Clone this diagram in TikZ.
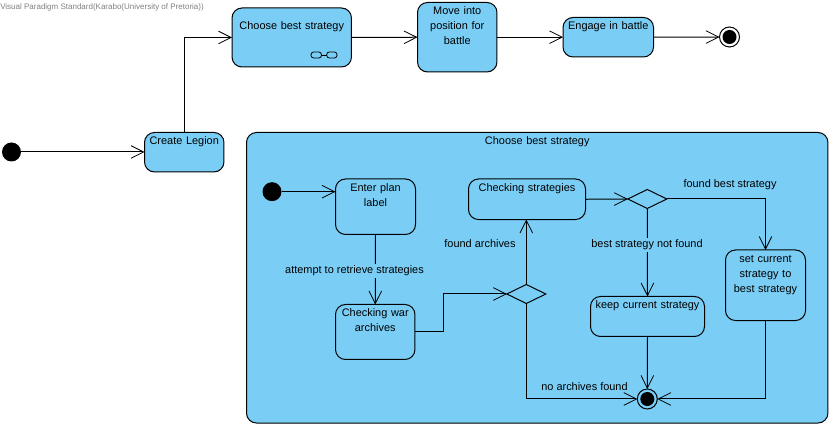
\documentclass[tikz,border=0pt]{standalone}
\usepackage{fontspec}
\setmainfont{Liberation Sans}
\usetikzlibrary{arrows.meta,shapes.geometric,calc}
\definecolor{stfill}{HTML}{7ACEF6}
\tikzset{
  conn/.style={draw=black,line width=0.75pt,-{Straight Barb[length=9.5pt,width=9.5pt,line width=0.6pt]}},
  st/.style={draw=black,fill=stfill,line width=0.75pt,rounded corners=7.5pt,anchor=north west,
    align=center,inner xsep=0pt,inner ysep=0pt,outer sep=0pt,font=\fontsize{8.2pt}{11.25pt}\selectfont},
  lab/.style={fill=stfill,inner xsep=1pt,inner ysep=1.5pt,font=\fontsize{8.2pt}{11.25pt}\selectfont},
  labnf/.style={inner sep=0pt,font=\fontsize{8.2pt}{11.25pt}\selectfont},
  startdot/.style={circle,fill=black,minimum size=14.25pt,inner sep=0pt,outer sep=0pt},
  endring/.style={circle,draw=black,line width=0.75pt,minimum size=15pt,inner sep=0pt,outer sep=0pt},
  enddot/.style={circle,fill=black,minimum size=10.5pt,inner sep=0pt,outer sep=0pt},
  choice/.style={diamond,aspect=2,draw=black,line width=0.75pt,minimum width=29.25pt,minimum height=14.25pt,inner sep=0pt,outer sep=0pt},
}
\begin{document}
\begin{tikzpicture}[x=0.75pt,y=-0.75pt]
\useasboundingbox[fill=white] (0,0) rectangle (832,427);
\node[anchor=west,inner sep=0pt,text=black!50,font=\fontsize{6pt}{7pt}\selectfont] (wm) at (0,7) {Visual Paradigm Standard(Karabo(University of Pretoria))};
% outer states
\node[st,text width=89.6pt,text height=16.3pt,text depth=27.95pt] (choose) at (232,8) {Choose best strategy};
\node[st,text width=59.6pt,text height=9.2pt,text depth=42.9pt] (move) at (417.5,2.5) {Move into\\position for\\battle};
\node[st,text width=67.9pt,text height=9.2pt,text depth=20.4pt] (engage) at (563,17.5) {Engage in battle};
\node[st,text width=59.6pt,text height=9.2pt,text depth=20.4pt] (create) at (144.5,132.5) {Create Legion};
\node[st,text width=436.1pt,text height=9.2pt,text depth=208.7pt] (big) at (246.5,132.5) {Choose best strategy};
\node[startdot] (init) at (11.5,152) {};
\node[endring,fill=white] (final) at (729.5,37) {};
\node[enddot] (finaldot) at (729.5,37) {};
% glasses icon
\draw[line width=0.6pt,rounded corners=2pt] (311,52) rectangle (321.5,58);
\draw[line width=0.6pt,rounded corners=2pt] (326.7,52) rectangle (337,58);
\draw[line width=0.6pt] (321.5,55) -- (326.7,55);
% inner states
\node[st,text width=60pt,text height=9.2pt,text depth=32.4pt] (enter) at (335.5,179) {Enter plan\\label};
\node[st,text width=59.6pt,text height=9.2pt,text depth=32.05pt] (war) at (335.5,304.5) {Checking war\\archives};
\node[st,text width=87.75pt,text height=9.2pt,text depth=21.2pt] (strat) at (468.5,179) {Checking strategies};
\node[st,text width=85.5pt,text height=9.2pt,text depth=20.8pt] (keep) at (590.5,296.5) {keep current strategy};
\node[st,text width=60pt,text height=9.2pt,text depth=43.7pt] (setcur) at (725.5,250) {set current\\strategy to\\best strategy};
\node[startdot] (init2) at (272,191.7) {};
\node[choice] (d1) at (526.3,294) {};
\node[choice] (d2) at (647.3,199) {};
\node[endring] (f2) at (647.3,399) {};
\node[enddot] (f2dot) at (647.3,399) {};
% outer connectors
\draw[conn] (init) -- (init -| create.west);
\draw[conn] (create.north) |- (choose.west);
\draw[conn] (choose.east) -- (move.west);
\draw[conn] (move.east) -- (engage.west);
\draw[conn] (engage.east) -- (final.west);
% inner connectors
\draw[conn] (init2) -- (init2 -| enter.west);
\draw[conn] (enter.south) -- (war.north);
\draw[conn] (war.east) -- ++(28.5,0) |- (d1.west);
\draw[conn] (d1.north) -- (d1.north |- strat.south);
\draw[conn] (d1.south) |- (f2.west);
\draw[conn] (strat.east) -- (d2.west);
\draw[conn] (d2.east) -| (setcur.north);
\draw[conn] (d2.south) -- (keep.north);
\draw[conn] (keep.south) -- (f2.north);
\draw[conn] (setcur.south) |- (f2.east);
% labels
\node[lab] (l1) at (354.5,271) {attempt to retrieve strategies};
\node[labnf] (l2) at (480,244) {found archives};
\node[lab] (l3) at (647,245) {best strategy not found};
\node[labnf] (l4) at (730,185) {found best strategy};
\node[labnf] (l5) at (584.5,387) {no archives found};
\end{tikzpicture}
\end{document}
